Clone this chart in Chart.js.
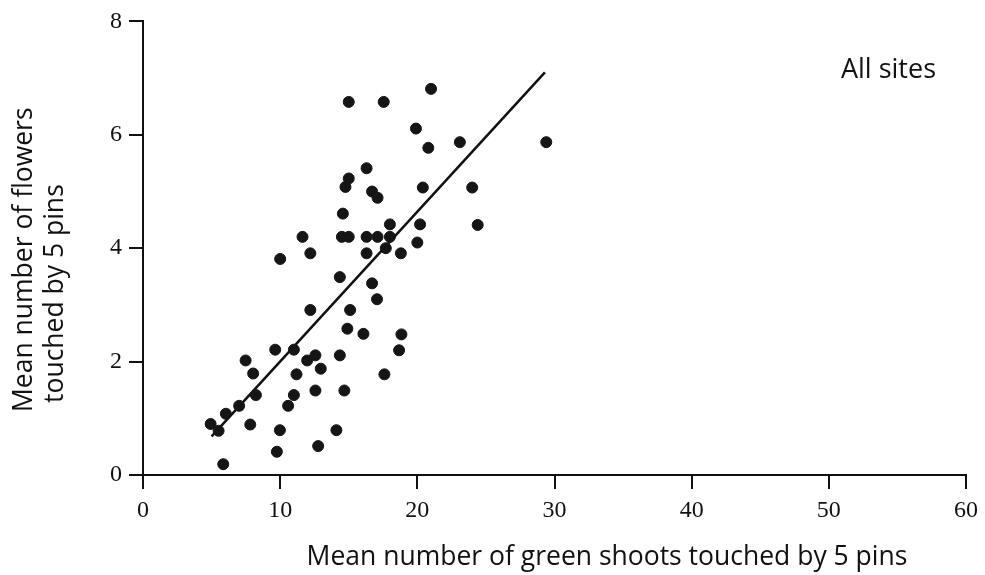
<!DOCTYPE html>
<html>
<head>
<meta charset="utf-8">
<script src="https://cdn.jsdelivr.net/npm/chart.js@4"></script>
<style>
    body{ margin:0; background:#fff; }
    #wrap{ width:985px; height:575px; }
</style>
</head>
<body>
<div id="wrap"><canvas id="scatterChart"></canvas></div>
<script>
// green shoots (x) and flowers (y)
const shoots = [
    15.0, 17.55, 21.0, 19.9, 23.1, 29.4, 20.8, 16.3, 15.0, 14.76,
    16.7, 17.1, 20.4, 24.0, 14.57, 18.0, 20.2, 24.4, 11.63, 14.5,
    15.0, 16.3, 17.1, 18.0, 20.0, 17.7, 10.0, 12.2, 16.3, 18.8,
    14.35, 16.7, 17.06, 12.2, 15.1, 14.9, 16.07, 18.84, 9.64, 11.0,
    18.67, 7.48, 11.97, 12.57, 14.35, 12.96, 8.03, 11.19, 17.6, 8.23,
    11.0, 12.57, 14.68, 10.58, 7.01, 6.04, 4.93, 5.51, 7.82, 9.98,
    14.1, 9.76, 12.77, 5.85
];
const flowers = [
    6.58, 6.58, 6.81, 6.11, 5.87, 5.87, 5.77, 5.41, 5.23, 5.08,
    5.0, 4.89, 5.07, 5.07, 4.61, 4.42, 4.42, 4.41, 4.2, 4.2,
    4.2, 4.2, 4.2, 4.2, 4.1, 4.0, 3.81, 3.91, 3.91, 3.91,
    3.49, 3.38, 3.10, 2.91, 2.91, 2.58, 2.49, 2.48, 2.21, 2.21,
    2.20, 2.02, 2.02, 2.11, 2.11, 1.875, 1.79, 1.775, 1.775, 1.41,
    1.41, 1.49, 1.49, 1.22, 1.22, 1.08, 0.90, 0.78, 0.89, 0.79,
    0.79, 0.41, 0.51, 0.19
];
// fitted line end points
const fitX = [5.0, 29.3];
const fitY = [0.68, 7.1];

const xTicks = [0, 10, 20, 30, 40, 50, 60];
const yTicks = [0, 2, 4, 6, 8];

const xTitle = "Mean number of green shoots touched by 5 pins";
const yTitle = ["Mean number of flowers", "touched by 5 pins"];
const panelLabel = "All sites";

const sansFont = "'Open Sans', sans-serif";
const serifFont = "'Liberation Serif', serif";

const points = shoots.map((x, i) => ({x: x, y: flowers[i]}));
const fitLine = fitX.map((x, i) => ({x: x, y: fitY[i]}));

// axis titles and panel label
const textPlugin = {
    id: "textPlugin",
    afterDraw(chart){
        const ctx = chart.ctx;
        const area = chart.chartArea;
        ctx.save();
        ctx.fillStyle = "#111";
        ctx.font = "26.5px " + sansFont;
        ctx.textBaseline = "alphabetic";
        ctx.textAlign = "center";
        ctx.fillText(xTitle, area.left + 464, 565);

        // y title, two lines starting from the bottom
        ctx.textAlign = "left";
        ctx.save();
        ctx.translate(32, 412);
        ctx.rotate(-Math.PI / 2);
        ctx.fillText(yTitle[0], 0, 0);
        ctx.restore();
        ctx.save();
        ctx.translate(63, 403);
        ctx.rotate(-Math.PI / 2);
        ctx.fillText(yTitle[1], 0, 0);
        ctx.restore();

        ctx.font = "27px " + sansFont;
        ctx.textAlign = "right";
        ctx.fillText(panelLabel, area.right - 30, 78);
        ctx.restore();
    }
};

const ctx1 = document.getElementById("scatterChart");
new Chart(ctx1, {
    type: "scatter",
    data: {
        datasets: [
            {
                label: "Sites",
                data: points,
                backgroundColor: "#151515",
                borderColor: "#151515",
                pointRadius: 5.5,
                pointHoverRadius: 5.5
            },
            {
                type: "line",
                label: "Fit",
                data: fitLine,
                borderColor: "#111",
                borderWidth: 2.5,
                pointRadius: 0,
                fill: false
            }
        ]
    },
    options: {
        responsive: true,
        maintainAspectRatio: false,
        animation: false,
        layout: { padding: { top: 20, right: 14, left: 0, bottom: 0 } },
        plugins: {
            legend: { display: false },
            tooltip: { enabled: false }
        },
        scales: {
            x: {
                type: "linear",
                min: 0,
                max: 60,
                afterFit(scale){ scale.height = 100; },
                afterBuildTicks(scale){ scale.ticks = xTicks.map(v => ({value: v})); },
                border: { display: true, color: "#111", width: 2 },
                grid: { drawOnChartArea: false, drawTicks: true, tickLength: 14, tickColor: "#111", lineWidth: 2 },
                ticks: { color: "#111", padding: 7, font: { family: serifFont, size: 24 } }
            },
            y: {
                type: "linear",
                min: 0,
                max: 8,
                afterFit(scale){ scale.width = 143; },
                afterBuildTicks(scale){ scale.ticks = yTicks.map(v => ({value: v})); },
                border: { display: true, color: "#111", width: 2 },
                grid: { drawOnChartArea: false, drawTicks: true, tickLength: 14, tickColor: "#111", lineWidth: 2 },
                ticks: { color: "#111", padding: 7, font: { family: serifFont, size: 24 } }
            }
        }
    },
    plugins: [textPlugin]
});
</script>
</body>
</html>
